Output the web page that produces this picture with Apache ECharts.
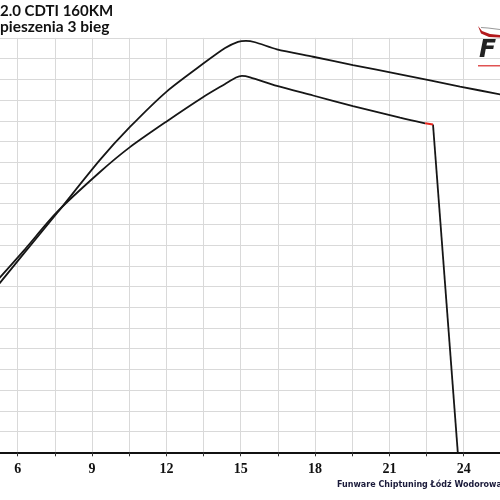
<!DOCTYPE html>
<html><head><meta charset="utf-8">
<script src="https://cdn.jsdelivr.net/npm/echarts@6/dist/echarts.min.js"></script>
<style>html,body{margin:0;padding:0;background:#fff}#c{width:500px;height:500px}</style>
</head><body><div id="c"></div>
<script>
const titleLines = ['2.0 CDTI 160KM', 'pieszenia 3 bieg'];
const footerText = 'Funware Chiptuning Łódź Wodorowa';
const xTickStep = 1.5;
const xLabelStep = 3;
const upperX = [5.25, 6.30, 7.59, 9.32, 10.53, 12.01, 13.49, 14.37, 14.89, 15.21, 15.58, 16.46, 17.92, 19.53, 21.43, 23.85, 25.5];
const upperY = [8.13, 9.67, 11.55, 14.11, 15.70, 17.41, 18.76, 19.51, 19.81, 19.86, 19.79, 19.45, 19.09, 18.69, 18.24, 17.65, 17.27];
const lowerX = [5.25, 6.30, 7.59, 9.32, 10.53, 12.01, 13.49, 14.37, 14.81, 15.05, 15.38, 16.46, 17.92, 19.53, 21.43, 22.44];
const lowerY = [8.39, 9.81, 11.60, 13.53, 14.73, 15.97, 17.15, 17.78, 18.09, 18.17, 18.10, 17.68, 17.22, 16.71, 16.15, 15.88];
const redX = [22.44, 22.76];
const redY = [15.88, 15.82];
const dropX = [22.76, 23.76];
const dropY = [15.82, 0];

const zip = (xs, ys) => xs.map((x, i) => [x, ys[i]]);
const chart = echarts.init(document.getElementById('c'), null, {renderer: 'canvas'});
const lineBase = {type: 'line', symbol: 'none', clip: true, animation: false};
chart.setOption({
  animation: false,
  backgroundColor: '#ffffff',
  grid: {left: -19.47, right: -0.9, top: 37.9, bottom: 47.7, containLabel: false, outerBoundsMode: 'none'},
  xAxis: {
    type: 'value', min: 4.5, max: 25.5, interval: xTickStep,
    axisLine: {show: true, lineStyle: {color: '#111', width: 2}},
    axisTick: {show: true, length: 4, lineStyle: {color: '#333', width: 1}},
    axisLabel: {
      margin: 10, color: '#111', fontFamily: 'Liberation Serif', fontWeight: 'bold', fontSize: 14,
      formatter: v => (Math.abs(v / xLabelStep - Math.round(v / xLabelStep)) < 1e-6 ? String(Math.round(v)) : '')
    },
    splitLine: {show: true, lineStyle: {color: '#d9d9d9', width: 1}}
  },
  yAxis: {
    type: 'value', min: 0, max: 20, interval: 1,
    axisLine: {show: false}, axisTick: {show: false}, axisLabel: {show: false},
    splitLine: {show: true, lineStyle: {color: '#d9d9d9', width: 1}}
  },
  series: [
    Object.assign({}, lineBase, {data: zip(upperX, upperY), smooth: 0.25, lineStyle: {color: '#161616', width: 1.8}, z: 3}),
    Object.assign({}, lineBase, {data: zip(lowerX, lowerY), smooth: 0.25, lineStyle: {color: '#161616', width: 1.8}, z: 3}),
    Object.assign({}, lineBase, {data: zip(dropX, dropY), lineStyle: {color: '#161616', width: 1.8}, z: 3}),
    Object.assign({}, lineBase, {data: zip(redX, redY), lineStyle: {color: '#e8261e', width: 2}, z: 4})
  ],
  graphic: [
    {type: 'text', left: 0, top: 4, style: {text: titleLines[0], fontFamily: 'Lato', fontWeight: 'bold', fontSize: 15, fill: '#111'}},
    {type: 'text', left: 0, top: 19, style: {text: titleLines[1], fontFamily: 'Lato', fontWeight: 'bold', fontSize: 15.5, fill: '#111'}},
    {type: 'text', left: 337, top: 481, style: {text: footerText, fontFamily: 'DejaVu Sans', fontWeight: 'bold', fontSize: 8, fill: '#1a1a3a'}},
    {type: 'polygon', shape: {points: [[478, 26], [482, 31], [490, 34], [500, 35], [500, 37.5], [489, 37], [481, 33.5]]}, style: {fill: '#b3191c'}},
    {type: 'polyline', shape: {points: [[481, 27.5], [488, 28], [500, 29.5]]}, style: {stroke: '#9a9a9a', lineWidth: 1.2, fill: null}},
    {type: 'text', left: 479, top: 38, style: {text: 'F', fontFamily: 'DejaVu Sans', fontWeight: 'bold', fontStyle: 'italic', fontSize: 25, fill: '#222'}},
    {type: 'rect', shape: {x: 478, y: 65, width: 22, height: 1.5}, style: {fill: '#e05252'}}
  ]
});
</script></body></html>
